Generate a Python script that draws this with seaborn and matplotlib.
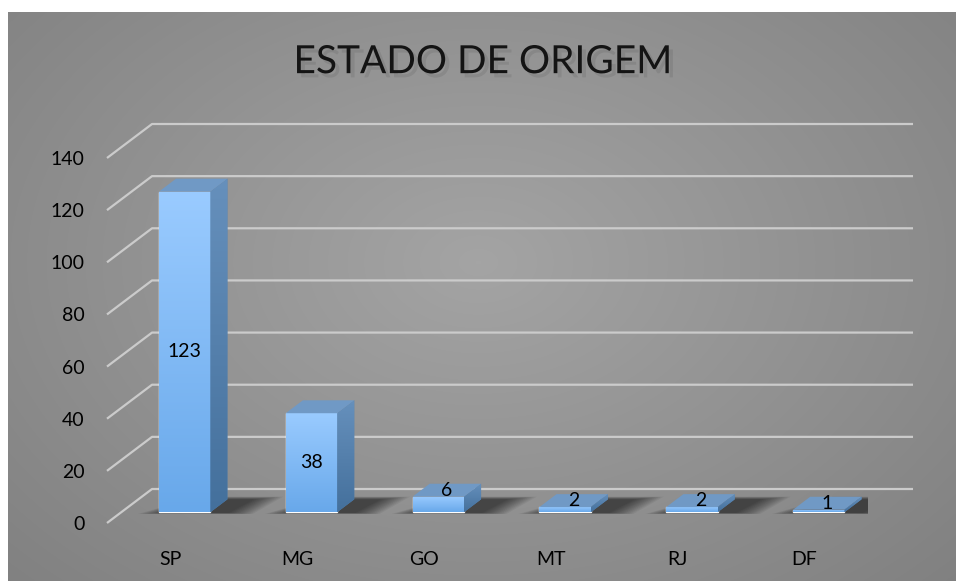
import numpy as np
import matplotlib
matplotlib.use('Agg')
import matplotlib.pyplot as plt
import matplotlib.patheffects as pe
from matplotlib.colors import LinearSegmentedColormap
from matplotlib.patches import Polygon
import seaborn as sns
import pandas as pd

# data
estados = ['SP', 'MG', 'GO', 'MT', 'RJ', 'DF']
qtd = [123, 38, 6, 2, 2, 1]
y_ticks = [0, 20, 40, 60, 80, 100, 120, 140]

sns.set_theme(style='white')
plt.rcParams['font.family'] = ['Lato', 'DejaVu Sans']

fig = plt.figure(figsize=(9.56, 5.81), dpi=100)
fig.patch.set_facecolor('white')

# gray radial background (chart area)
bg = fig.add_axes([8/956, 0, 948/956, 569/581])
yy, xx = np.mgrid[0:569, 0:948]
r = np.sqrt(((xx - 470) / 620.0)**2 + ((yy - 250) / 430.0)**2)
bg_cmap = LinearSegmentedColormap.from_list('bg', ['#a4a4a4', '#7e7e7e'])
bg.imshow(r, cmap=bg_cmap, vmin=0, vmax=1.15, aspect='auto')
bg.axis('off')

# 3d depth: full depth in x (category units) and y (value units)
D = 0.355
H = 13.04
f = 0.315   # front face of bars, fraction of depth
bd = 0.38   # bar depth, fraction of depth

ax = fig.add_axes([107/956, 58/581, 761/956, 365/581])
ax.patch.set_alpha(0)

df = pd.DataFrame({'estado': estados, 'qtd': qtd})
sns.barplot(data=df, x='estado', y='qtd', width=0.405, color='#80b8f0', ax=ax, zorder=5)

# back wall gridlines + left wall diagonals
for v in y_ticks:
    ax.plot([-0.5, -0.5 + D, 5.5 + D], [v, v + H, v + H], color='#cbcbcb', lw=1.6,
            clip_on=False, zorder=1, solid_capstyle='butt')

front_cmap = LinearSegmentedColormap.from_list('fr', ['#68a8ea', '#9acbff'])
side_cmap = LinearSegmentedColormap.from_list('sd', ['#44709c', '#6690bc'])
grad = np.linspace(0, 1, 256).reshape(-1, 1)

def floor(x, d):
    return (x + d * D, d * H)

for p, v in zip(ax.patches, qtd):
    w = p.get_width()
    x0 = p.get_x() + f * D
    y0 = f * H
    p.set_x(x0)
    p.set_y(y0)
    x1 = x0 + w
    y1 = y0 + v

    # soft shadow on the floor
    for e in np.linspace(0.0, 0.2, 12):
        pts = [floor(x0 - 0.06 - e, f - 0.02 - e * 0.15), floor(x1 + 0.04 + e, f - 0.02 - e * 0.15),
               floor(x1 + 0.1 + e, f + bd + e * 0.4), floor(x0 + e * 0.2, f + bd + e * 0.4)]
        ax.add_patch(Polygon(pts, closed=True, facecolor='black', edgecolor='none',
                             alpha=0.055, zorder=2))

    # front face gradient
    im = ax.imshow(grad, extent=[x0, x1, y0, y1], origin='lower', cmap=front_cmap,
                   aspect='auto', zorder=6)
    im.set_clip_path(p)

    # side face
    side = Polygon([(x1, y0), (x1 + bd * D, y0 + bd * H), (x1 + bd * D, y1 + bd * H), (x1, y1)],
                   closed=True, facecolor='#5580ac', edgecolor='none', zorder=5)
    ax.add_patch(side)
    ims = ax.imshow(grad, extent=[x1, x1 + bd * D, y0, y1 + bd * H], origin='lower',
                    cmap=side_cmap, aspect='auto', zorder=6)
    ims.set_clip_path(side)

    # top face
    top = Polygon([(x0, y1), (x1, y1), (x1 + bd * D, y1 + bd * H), (x0 + bd * D, y1 + bd * H)],
                  closed=True, facecolor='#7099c5', edgecolor='none', zorder=7)
    ax.add_patch(top)

    # data label
    cx = x0 + w / 2
    if v >= 10:
        ly = y0 + v / 2
    else:
        cx += bd * D / 2
        ly = y0 + v + bd * H / 2
    ax.text(cx, ly, str(v), ha='center', va='center', fontsize=14, color='black', zorder=8)

ax.set_xlim(-0.5, 5.5)
ax.set_ylim(0, 140)
ax.set_yticks(y_ticks)
ax.set_xticks(range(len(estados)))
ax.set_xticklabels(estados)
ax.tick_params(axis='y', length=0, pad=16, labelsize=14, labelcolor='black')
ax.tick_params(axis='x', length=0, pad=20, labelsize=14, labelcolor='black')
ax.set_xlabel('')
ax.set_ylabel('')
for s in ax.spines.values():
    s.set_visible(False)

title = fig.text(0.505, 0.893, 'ESTADO DE ORIGEM', ha='center', va='center', fontsize=28,
                 color='#141414')
title.set_path_effects([pe.withSimplePatchShadow(offset=(3, -3), shadow_rgbFace='black', alpha=0.08)])

fig.savefig('out.png', dpi=100)
